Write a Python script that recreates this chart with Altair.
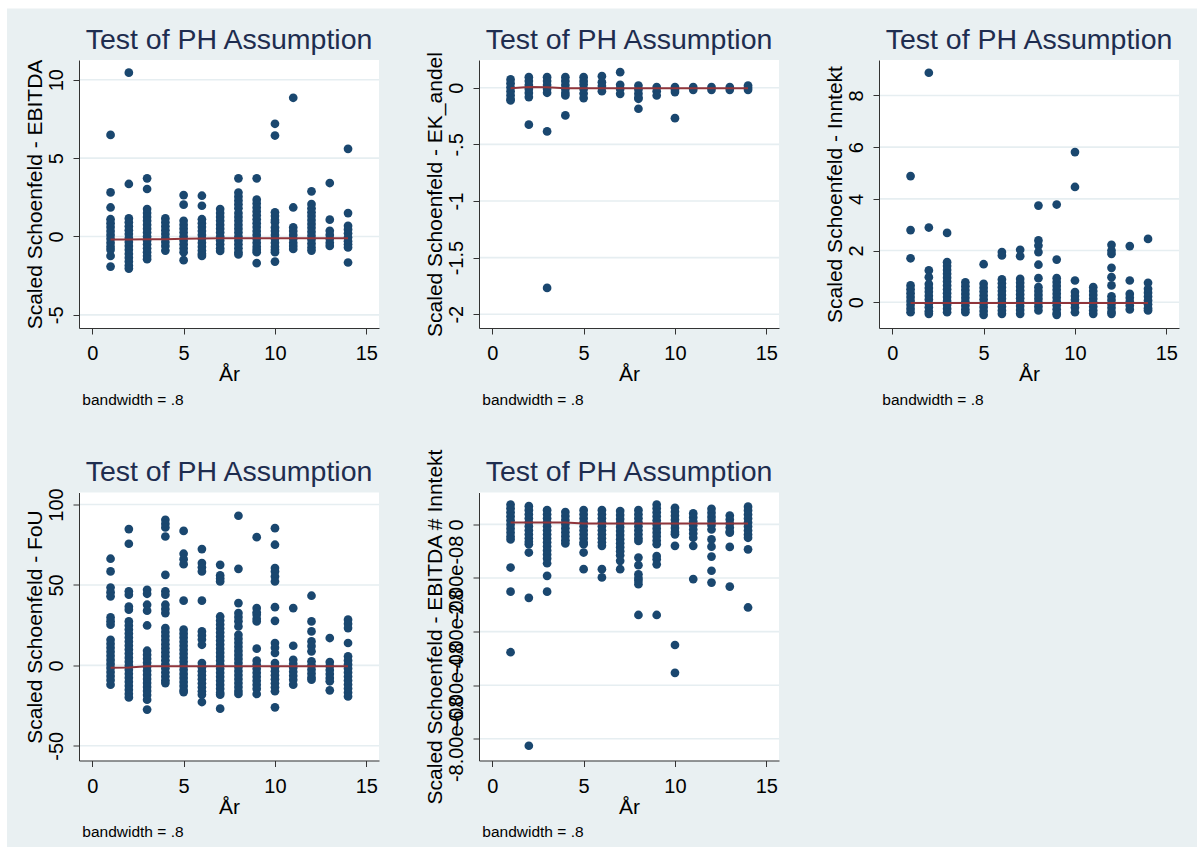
import altair as alt
import pandas as pd

YEARS = list(range(1, 15))

# Scaled Schoenfeld residuals per analysis year (År 1..14), one inner list per year
EBITDA = [
    [6.48, 2.81, 1.85, 1.1, 0.85, 0.6, 0.35, 0.1, -0.15, -0.4, -0.65, -0.85, -1.24, -1.92],
    [10.45, 3.35, 1.15, 0.9, 0.65, 0.4, 0.15, -0.1, -0.35, -0.6, -0.85, -1.1, -1.35, -1.6, -1.85, -2.05],
    [3.71, 3.03, 1.75, 1.5, 1.25, 1.0, 0.75, 0.5, 0.25, 0.0, -0.25, -0.5, -0.75, -1.0, -1.25, -1.45],
    [1.15, 0.9, 0.65, 0.4, 0.15, -0.1, -0.35, -0.6, -0.9],
    [2.64, 2.03, 1.0, 0.75, 0.5, 0.25, 0.0, -0.25, -0.5, -0.75, -1.0, -1.51],
    [2.6, 1.96, 1.1, 0.85, 0.6, 0.35, 0.1, -0.15, -0.4, -0.65, -0.9, -1.1, -1.24],
    [1.75, 1.5, 1.25, 1.0, 0.75, 0.5, 0.25, 0.0, -0.25, -0.5, -0.75, -0.92],
    [3.71, 2.8, 2.55, 2.3, 2.05, 1.8, 1.5, 1.25, 1.0, 0.75, 0.5, 0.25, 0.0, -0.25, -0.5, -0.75, -1.0, -1.15],
    [3.71, 2.35, 2.1, 1.85, 1.6, 1.35, 1.1, 0.85, 0.6, 0.35, 0.1, -0.15, -0.4, -0.65, -0.85, -1.0, -1.7],
    [7.19, 6.44, 1.54, 1.3, 1.05, 0.9, 0.58, 0.35, 0.1, -0.15, -0.4, -0.65, -0.85, -1.0, -1.6],
    [8.85, 1.85, 0.58, 0.35, 0.1, -0.15, -0.4, -0.6, -0.8],
    [2.88, 2.07, 1.8, 1.54, 1.3, 1.05, 0.8, 0.55, 0.3, 0.05, -0.2, -0.45, -0.7, -0.9],
    [3.41, 1.07, 0.36, 0.1, -0.15, -0.4, -0.6],
    [5.59, 1.49, 0.68, 0.45, 0.2, -0.05, -0.3, -0.5, -0.7, -1.66],
]
EBITDA_LOWESS = [-0.19, -0.19, -0.18, -0.18, -0.15, -0.13, -0.12, -0.12, -0.12, -0.12, -0.12, -0.12, -0.12, -0.12]

EK_ANDEL = [
    [0.074, 0.04, 0.005, -0.03, -0.065, -0.1, -0.112],
    [0.094, 0.06, 0.025, -0.01, -0.045, -0.082, -0.326],
    [0.094, 0.06, 0.025, -0.01, -0.044, -0.385, -1.768],
    [0.094, 0.06, 0.025, -0.01, -0.045, -0.068, -0.244],
    [0.094, 0.06, 0.03, -0.01, -0.05, -0.091],
    [0.103, 0.05, 0.015, -0.03],
    [0.138, 0.026, -0.01, -0.053],
    [0.02, -0.015, -0.05, -0.085, -0.097, -0.185],
    [0.006, -0.03, -0.068],
    [0.006, -0.016, -0.038, -0.268],
    [0.006, -0.018],
    [0.006, -0.018],
    [0.006, -0.018],
    [0.02, 0.0, -0.018],
]
EK_ANDEL_LOWESS = [-0.003, 0.006, 0.005, -0.003, -0.003, -0.003, -0.003, -0.003, -0.003, -0.003, -0.003, -0.003, -0.003, -0.003]

INNTEKT = [
    [4.88, 2.79, 1.70, 0.65, 0.5, 0.35, 0.2, 0.05, -0.1, -0.25, -0.39],
    [8.88, 2.89, 1.23, 0.97, 0.7, 0.55, 0.4, 0.25, 0.1, -0.05, -0.2, -0.35, -0.45],
    [2.68, 1.55, 1.4, 1.25, 1.1, 0.95, 0.8, 0.65, 0.5, 0.35, 0.2, 0.05, -0.1, -0.25, -0.39],
    [0.77, 0.62, 0.47, 0.32, 0.17, 0.02, -0.13, -0.28, -0.39],
    [1.47, 0.71, 0.56, 0.41, 0.26, 0.11, -0.04, -0.19, -0.34, -0.49],
    [1.94, 1.81, 0.88, 0.73, 0.58, 0.43, 0.28, 0.13, -0.02, -0.17, -0.32, -0.45],
    [2.03, 1.78, 0.9, 0.75, 0.6, 0.45, 0.3, 0.15, 0.0, -0.15, -0.3, -0.45],
    [3.74, 2.39, 2.19, 1.94, 1.45, 0.93, 0.58, 0.43, 0.28, 0.13, -0.02, -0.17, -0.32],
    [3.78, 1.65, 0.93, 0.78, 0.63, 0.48, 0.33, 0.18, 0.03, -0.12, -0.27, -0.42, -0.49],
    [5.81, 4.46, 0.84, 0.39, 0.24, 0.09, -0.06, -0.21, -0.39],
    [0.58, 0.43, 0.28, 0.13, -0.02, -0.17, -0.32, -0.45],
    [2.22, 2.0, 1.87, 1.33, 0.97, 0.65, 0.23, 0.08, -0.07, -0.22, -0.37, -0.45],
    [2.17, 0.84, 0.32, 0.17, 0.02, -0.13, -0.28],
    [2.45, 0.75, 0.52, 0.37, 0.22, 0.07, -0.08, -0.23, -0.32],
]
INNTEKT_LOWESS = [-0.03] * 14

FOU = [
    [66.3, 58.4, 48.4, 45.5, 42.9, 29.8, 27.5, 25.3, 15.9, 13.4, 10.9, 8.4, 5.9, 3.4, 0.9, -1.6, -4.1, -6.6, -9.1, -12.0],
    [84.7, 75.6, 46.0, 43.9, 36.6, 34.6, 27.3, 24.8, 22.3, 19.8, 17.3, 14.8, 12.3, 9.8, 7.3, 4.8, 2.3, -0.2, -2.7, -5.2, -7.7, -10.2, -12.7, -15.2, -17.7, -19.9],
    [47.0, 44.5, 37.7, 34.0, 24.8, 9.1, 6.6, 4.1, 1.6, -0.9, -3.4, -5.9, -8.4, -10.9, -13.4, -15.9, -18.4, -21.3, -27.5],
    [90.5, 88.0, 85.7, 80.1, 56.3, 46.0, 43.9, 37.7, 35.0, 32.5, 23.2, 20.7, 18.2, 15.7, 13.2, 10.7, 8.2, 5.7, 3.2, 0.7, -1.8, -4.3, -6.8, -9.3, -11.0],
    [83.6, 69.4, 66.0, 62.9, 40.2, 22.2, 19.7, 17.2, 14.7, 12.2, 9.7, 7.2, 4.7, 2.2, -0.3, -2.8, -5.3, -7.8, -10.3, -12.8, -15.3, -16.6],
    [72.3, 63.6, 61.0, 58.4, 40.2, 21.1, 18.6, 16.1, 12.8, 1.4, -1.1, -3.6, -6.1, -8.6, -11.1, -13.6, -16.1, -18.2, -22.8],
    [62.5, 55.9, 54.0, 52.2, 30.4, 27.9, 25.4, 22.9, 20.4, 17.9, 15.4, 12.9, 10.4, 7.9, 5.4, 2.9, 0.4, -2.1, -4.6, -7.1, -9.6, -12.1, -14.6, -17.1, -18.2, -26.9],
    [93.0, 60.0, 38.7, 32.5, 30.0, 27.5, 24.2, 19.0, 16.5, 14.0, 11.5, 9.0, 6.5, 4.0, 1.5, -1.0, -3.5, -6.0, -8.5, -11.0, -13.5, -16.0, -17.8],
    [79.7, 35.6, 33.0, 31.5, 29.0, 27.3, 10.4, 2.9, 0.4, -2.1, -4.6, -7.1, -9.6, -12.1, -14.6, -17.8],
    [85.3, 75.0, 60.5, 58.4, 55.3, 52.2, 36.2, 27.7, 13.9, 11.0, 7.7, 1.4, -1.1, -3.6, -6.1, -8.6, -11.1, -13.6, -16.1, -26.1],
    [35.6, 12.2, 3.5, 1.0, -1.5, -4.0, -6.5, -9.0, -12.0],
    [43.3, 27.3, 21.1, 14.9, 12.0, 8.7, 2.5, 0.0, -2.5, -5.0, -7.5, -8.9],
    [17.0, 2.1, -0.4, -2.9, -5.4, -7.9, -9.9, -15.5],
    [28.4, 25.8, 23.2, 13.9, 5.6, 3.1, 0.6, -1.9, -4.4, -6.9, -9.4, -11.9, -14.4, -16.9, -19.3],
]
FOU_LOWESS = [-1.5, -1.3, -0.6, -0.6, -0.6, -0.6, -0.6, -0.6, -0.6, -0.6, -0.6, -0.6, -0.6, -0.6]

# EBITDA # Inntekt residuals, stored in units of 1e-08
E8 = 1e-8
EBITDA_X_INNTEKT = [
    [0.74, 0.6, 0.45, 0.3, 0.15, 0.0, -0.15, -0.3, -0.45, -0.56, -1.61, -2.51, -4.77],
    [0.68, 0.53, 0.38, 0.23, 0.08, -0.07, -0.22, -0.37, -0.52, -0.65, -0.74, -1.05, -2.74, -8.26],
    [0.53, 0.38, 0.23, 0.08, -0.07, -0.22, -0.37, -0.52, -0.67, -0.82, -0.97, -1.12, -1.27, -1.45, -1.92, -2.51],
    [0.46, 0.31, 0.16, 0.01, -0.14, -0.29, -0.44, -0.59, -0.71],
    [0.53, 0.38, 0.23, 0.08, -0.07, -0.22, -0.37, -0.52, -0.67, -0.74, -1.05, -1.67],
    [0.53, 0.38, 0.23, 0.08, -0.07, -0.22, -0.37, -0.52, -0.67, -0.8, -1.67, -1.98],
    [0.5, 0.35, 0.2, 0.05, -0.1, -0.25, -0.4, -0.55, -0.7, -0.85, -1.0, -1.15, -1.36, -1.67],
    [0.53, 0.38, 0.23, 0.08, -0.07, -0.22, -0.37, -0.52, -0.62, -1.24, -1.52, -1.86, -2.0, -2.1, -2.23, -3.38],
    [0.74, 0.6, 0.45, 0.3, 0.15, 0.0, -0.15, -0.3, -0.45, -0.6, -0.74, -1.18, -1.3, -1.49, -3.38],
    [0.62, 0.47, 0.32, 0.17, 0.02, -0.13, -0.28, -0.37, -0.8, -4.5, -5.54],
    [0.41, 0.26, 0.11, -0.04, -0.19, -0.34, -0.5, -0.8, -2.04],
    [0.58, 0.43, 0.28, 0.13, -0.02, -0.19, -0.56, -0.83, -1.2, -1.73, -2.17],
    [0.33, 0.18, 0.03, -0.12, -0.27, -0.31, -0.84, -2.32],
    [0.66, 0.52, 0.37, 0.22, 0.07, -0.08, -0.23, -0.38, -0.5, -0.93, -3.1],
]
EBITDA_X_INNTEKT_LOWESS = [0.07, 0.07, 0.07, 0.07, 0.03, 0.03, 0.03, 0.03, 0.03, 0.03, 0.03, 0.03, 0.03, 0.03]

X_TICKS = [0, 5, 10, 15]
PANEL_TITLE = "Test of PH Assumption"
NOTE = "bandwidth = .8"

FONT = "Liberation Sans, Arial, sans-serif"
BG = "#e9f0f2"
GRID = "#e6eef1"
NAVY = "#1a476f"
MAROON = "#90353b"
TITLE_COLOR = "#1e2d4f"
AXIS_COLOR = "#333333"
W, H = 300, 268


def label_expr(ticks, labels):
    vals = ",".join(repr(t) for t in ticks)
    labs = ",".join("'" + l + "'" for l in labels)
    return "[" + labs + "][indexof([" + vals + "], datum.value)]"


def panel(cols, lowess, ytitle, ydomain, yticks, ylabels, scale=1.0, backdrop=False):
    pts = pd.DataFrame(
        [(yr, v * scale) for yr, col in zip(YEARS, cols) for v in col], columns=["x", "y"]
    )
    smooth = pd.DataFrame({"x": YEARS, "y": [v * scale for v in lowess]})
    grid = pd.DataFrame({"y": yticks})
    texts = pd.DataFrame({"title": [PANEL_TITLE], "note": [NOTE]})

    x_enc = alt.X(
        "x:Q",
        scale=alt.Scale(domain=[-0.728, 15.695], nice=False, zero=False),
        axis=alt.Axis(
            values=X_TICKS, title="År", grid=False, zindex=1,
            domainColor=AXIS_COLOR, domainWidth=1, tickColor=AXIS_COLOR, tickSize=6, tickWidth=1,
            labelFont=FONT, labelFontSize=20, labelColor="black", labelBaseline="alphabetic",
            labelPadding=25.8, labelFlush=False, labelOverlap=False,
            titleFont=FONT, titleFontSize=21, titleFontWeight="normal", titleColor="black",
            titleX=W / 2, titleY=52.5, titleAlign="center", titleBaseline="alphabetic",
        ),
    )
    y_enc = alt.Y(
        "y:Q",
        scale=alt.Scale(domain=ydomain, nice=False, zero=False),
        axis=alt.Axis(
            values=yticks, title=ytitle, grid=False, zindex=1,
            domainColor=AXIS_COLOR, domainWidth=1, tickColor=AXIS_COLOR, tickSize=6, tickWidth=1,
            labelFont=FONT, labelFontSize=20, labelColor="black", labelAngle=270,
            labelAlign="center", labelBaseline="alphabetic", labelPadding=11,
            labelFlush=False, labelOverlap=False, labelExpr=label_expr(yticks, ylabels),
            titleFont=FONT, titleFontSize=21, titleFontWeight="normal", titleColor="black",
            titleAngle=270, titleX=-37.3, titleY=H / 2, titleAlign="center",
            titleBaseline="alphabetic",
        ),
    )

    base = alt.Chart(texts)
    layers = []
    if backdrop:
        # graph-region fill spanning the whole canvas, drawn first
        layers.append(
            base.mark_rect(color=BG).encode(
                x=alt.value(-72), x2=alt.value(1197 - 79),
                y=alt.value(-51.5), y2=alt.value(847 - 59.5),
            )
        )
    layers.append(
        base.mark_rect(color="white").encode(
            x=alt.value(0), x2=alt.value(W), y=alt.value(0), y2=alt.value(H)
        )
    )
    layers.append(
        alt.Chart(grid).mark_rule(color=GRID, strokeWidth=1.6).encode(
            y=y_enc, x=alt.value(0), x2=alt.value(W)
        )
    )
    layers.append(
        alt.Chart(pts).mark_circle(size=76, opacity=1, color=NAVY).encode(x=x_enc, y=y_enc)
    )
    layers.append(
        alt.Chart(smooth).mark_line(color=MAROON, strokeWidth=2).encode(x=x_enc, y=y_enc)
    )
    layers.append(
        base.mark_text(
            align="center", baseline="alphabetic", font=FONT, fontSize=28.5, color=TITLE_COLOR
        ).encode(text="title:N", x=alt.value(W / 2), y=alt.value(-11.2))
    )
    layers.append(
        base.mark_text(
            align="left", baseline="alphabetic", font=FONT, fontSize=15.5, color="black"
        ).encode(text="note:N", x=alt.value(3.3), y=alt.value(344.8))
    )
    return alt.layer(*layers).properties(width=W, height=H)


p1 = panel(EBITDA, EBITDA_LOWESS, "Scaled Schoenfeld - EBITDA",
           [-5.84, 11.26], [-5, 0, 5, 10], ["-5", "0", "5", "10"], backdrop=True)
p2 = panel(EK_ANDEL, EK_ANDEL_LOWESS, "Scaled Schoenfeld - EK_andel",
           [-2.122, 0.2456], [-2, -1.5, -1, -0.5, 0], ["-2", "-1.5", "-1", "-.5", "0"])
p3 = panel(INNTEKT, INNTEKT_LOWESS, "Scaled Schoenfeld - Inntekt",
           [-0.999, 9.374], [0, 2, 4, 6, 8], ["0", "2", "4", "6", "8"])
p4 = panel(FOU, FOU_LOWESS, "Scaled Schoenfeld - FoU",
           [-59.14, 107.46], [-50, 0, 50, 100], ["-50", "0", "50", "100"])
p5 = panel(EBITDA_X_INNTEKT, EBITDA_X_INNTEKT_LOWESS, "Scaled Schoenfeld - EBITDA # Inntekt",
           [-8.81e-8, 1.19e-8], [-8e-08, -6e-08, -4e-08, -2e-08, 0],
           ["-8.00e-08", "-6.00e-08", "-4.00e-08", "-2.00e-08", "0"], scale=E8)

chart = alt.concat(
    p1, p2, p3, p4, p5, columns=3, spacing={"row": 164.5, "column": 100}, bounds="flush"
).properties(
    padding={"left": 7, "top": 8, "right": 0, "bottom": 0},
    background="white",
).configure_view(strokeWidth=0)

chart.save("out.html", embed_options={"renderer": "svg", "actions": False})
